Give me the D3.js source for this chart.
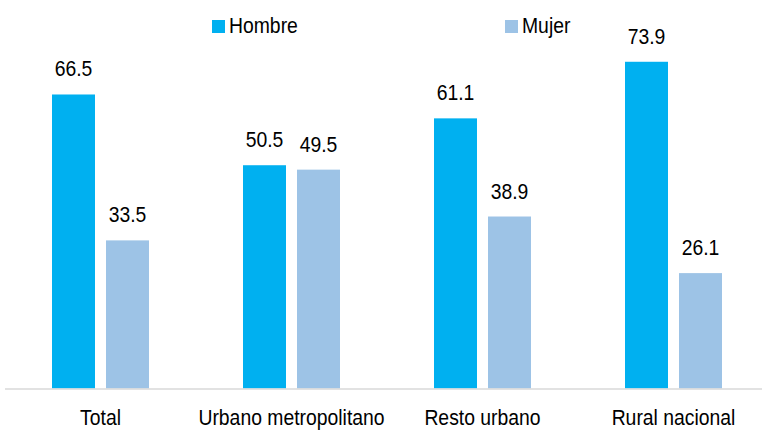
<!DOCTYPE html>
<html>
<head>
<meta charset="utf-8">
<script src="https://cdn.jsdelivr.net/npm/d3@7"></script>
<style>
    body { margin: 0; background: #fff; }
    text { font-family: "Liberation Sans", Arial, sans-serif; fill: #000; }
</style>
</head>
<body>
<div id="chart"></div>
<script>
// Data
const categories = ["Total", "Urbano metropolitano", "Resto urbano", "Rural nacional"];
const seriesNames = ["Hombre", "Mujer"];
const hombre = [66.5, 50.5, 61.1, 73.9];
const mujer = [33.5, 49.5, 38.9, 26.1];
const colors = ["#00B0F0", "#9DC3E6"];

const width = 762, height = 430;
const narrow = 0.88; // squeeze text to mimic a narrow font

const svg = d3.select("#chart")
    .append("svg")
    .attr("width", width)
    .attr("height", height);

// Scales
const x0 = d3.scaleBand()
    .domain(categories)
    .range([5, 769]);

const x1 = d3.scaleBand()
    .domain(seriesNames)
    .range([47, 144])
    .paddingInner(0.204);

const y = d3.scaleLinear()
    .domain([0, 80])
    .range([388.5, 34.8]);

const rows = categories.map((c, i) => ({
    cat: c,
    values: [
        { name: "Hombre", value: hombre[i] },
        { name: "Mujer", value: mujer[i] }
    ]
}));

// Bars
const groups = svg.selectAll(".group")
    .data(rows)
    .enter()
    .append("g")
    .attr("class", "group")
    .attr("transform", d => `translate(${x0(d.cat)},0)`);

groups.selectAll("rect")
    .data(d => d.values)
    .enter()
    .append("rect")
    .attr("x", d => x1(d.name))
    .attr("y", d => y(d.value))
    .attr("width", x1.bandwidth())
    .attr("height", d => y(0) - y(d.value))
    .attr("fill", (d, i) => colors[i]);

// Value labels
groups.selectAll(".val")
    .data(d => d.values)
    .enter()
    .append("text")
    .attr("class", "val")
    .attr("transform", d => `translate(${x1(d.name) + x1.bandwidth() / 2},${y(d.value) - 18}) scale(${narrow},1)`)
    .attr("text-anchor", "middle")
    .attr("font-size", 22)
    .text(d => d.value.toFixed(1));

// Baseline axis
svg.append("line")
    .attr("x1", 5)
    .attr("x2", 769)
    .attr("y1", y(0) + 0.5)
    .attr("y2", y(0) + 0.5)
    .attr("stroke", "#d9d9d9")
    .attr("stroke-width", 1.5);

// Category labels
svg.selectAll(".cat")
    .data(categories)
    .enter()
    .append("text")
    .attr("class", "cat")
    .attr("transform", d => `translate(${x0(d) + x0.bandwidth() / 2},425) scale(${narrow},1)`)
    .attr("text-anchor", "middle")
    .attr("font-size", 22)
    .text(d => d);

// Legend
const legendX = [212, 505];
const legend = svg.selectAll(".legend")
    .data(seriesNames)
    .enter()
    .append("g")
    .attr("class", "legend")
    .attr("transform", (d, i) => `translate(${legendX[i]},20)`);

legend.append("rect")
    .attr("width", 13)
    .attr("height", 13)
    .attr("fill", (d, i) => colors[i]);

legend.append("text")
    .attr("transform", `translate(17,13) scale(${narrow},1)`)
    .attr("font-size", 22)
    .text(d => d);
</script>
</body>
</html>
